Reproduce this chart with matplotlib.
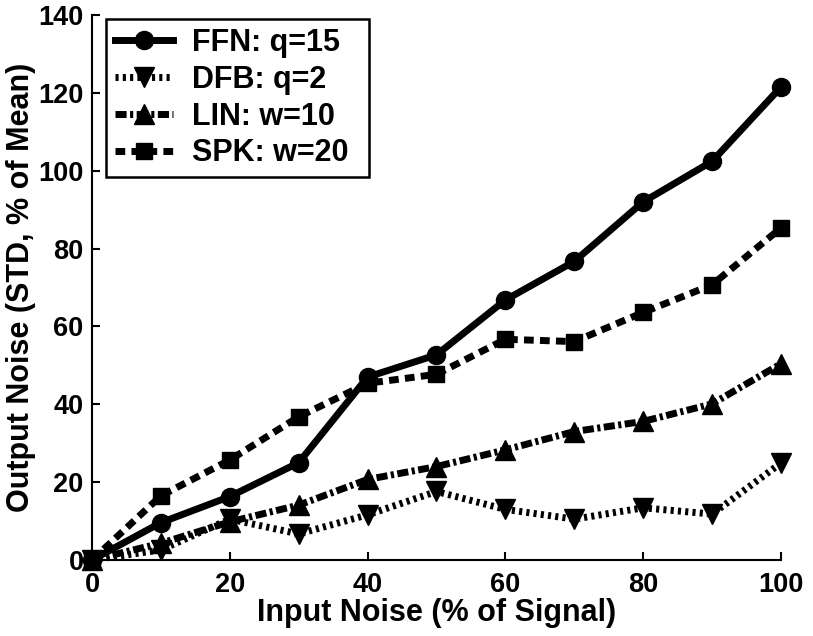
import matplotlib
matplotlib.use("Agg")
import matplotlib.pyplot as plt

x = [0, 10, 20, 30, 40, 50, 60, 70, 80, 90, 100]
ffn = [0, 9.6, 16.3, 25.0, 47.0, 52.7, 66.8, 76.7, 92.0, 102.4, 121.5]
dfb = [0, 2.6, 10.5, 6.7, 11.6, 17.6, 13.0, 10.5, 13.4, 11.8, 24.9]
lin = [0, 4.3, 9.8, 14.1, 20.7, 24.0, 28.3, 33.0, 35.6, 40.1, 50.4]
spk = [0, 16.5, 25.7, 36.8, 45.4, 47.7, 56.7, 56.1, 63.6, 70.7, 85.3]
labels = ["FFN: q=15", "DFB: q=2", "LIN: w=10", "SPK: w=20"]
xticks = [0, 20, 40, 60, 80, 100]
yticks = [0, 20, 40, 60, 80, 100, 120, 140]

plt.rcParams['font.family'] = ['Liberation Sans', 'DejaVu Sans']
plt.rcParams['font.weight'] = 'bold'

fig = plt.figure(figsize=(8.13, 6.36), dpi=100)
ax = fig.add_axes([0.1132, 0.1195, 0.8474, 0.8569])

lw = 5
ax.plot(x, ffn, '-', color='black', lw=lw, marker='o', ms=13, label=labels[0], clip_on=False)
ax.plot(x, dfb, color='black', lw=lw, linestyle=(0, (0.45, 0.6)), marker='v', ms=15, label=labels[1], clip_on=False)
ax.plot(x, lin, color='black', lw=lw, linestyle=(0, (1.6, 0.5, 0.45, 0.5)), marker='^', ms=15, label=labels[2], clip_on=False)
ax.plot(x, spk, color='black', lw=lw, linestyle=(0, (1.4, 0.9)), marker='s', ms=11.5, label=labels[3], clip_on=False)

ax.set_xlim(0, 100)
ax.set_ylim(0, 140)
ax.set_xticks(xticks)
ax.set_yticks(yticks)
ax.spines['top'].set_visible(False)
ax.spines['right'].set_visible(False)
for s in ['left', 'bottom']:
    ax.spines[s].set_linewidth(1.5)
ax.tick_params(direction='in', length=6, width=1.5, labelsize=19.5)
ax.tick_params(axis='x', pad=9)
ax.tick_params(axis='y', pad=6)
for t in ax.get_xticklabels() + ax.get_yticklabels():
    t.set_fontweight('bold')

ax.set_xlabel("Input Noise (% of Signal)", fontsize=22, fontweight='bold', labelpad=0)
ax.set_ylabel("Output Noise (STD, % of Mean)", fontsize=22, fontweight='bold', labelpad=2)

leg = ax.legend(loc='upper left', bbox_to_anchor=(0.0203, 0.5, 0.3817, 0.4927), mode='expand',
                borderaxespad=0, fontsize=22, frameon=True, fancybox=False, edgecolor='black',
                handlelength=1.9, borderpad=0.3, labelspacing=0.22, handletextpad=0.6, framealpha=1)
leg.get_frame().set_linewidth(1.8)
for t in leg.get_texts():
    t.set_fontweight('bold')

fig.savefig("out.png", dpi=100)
